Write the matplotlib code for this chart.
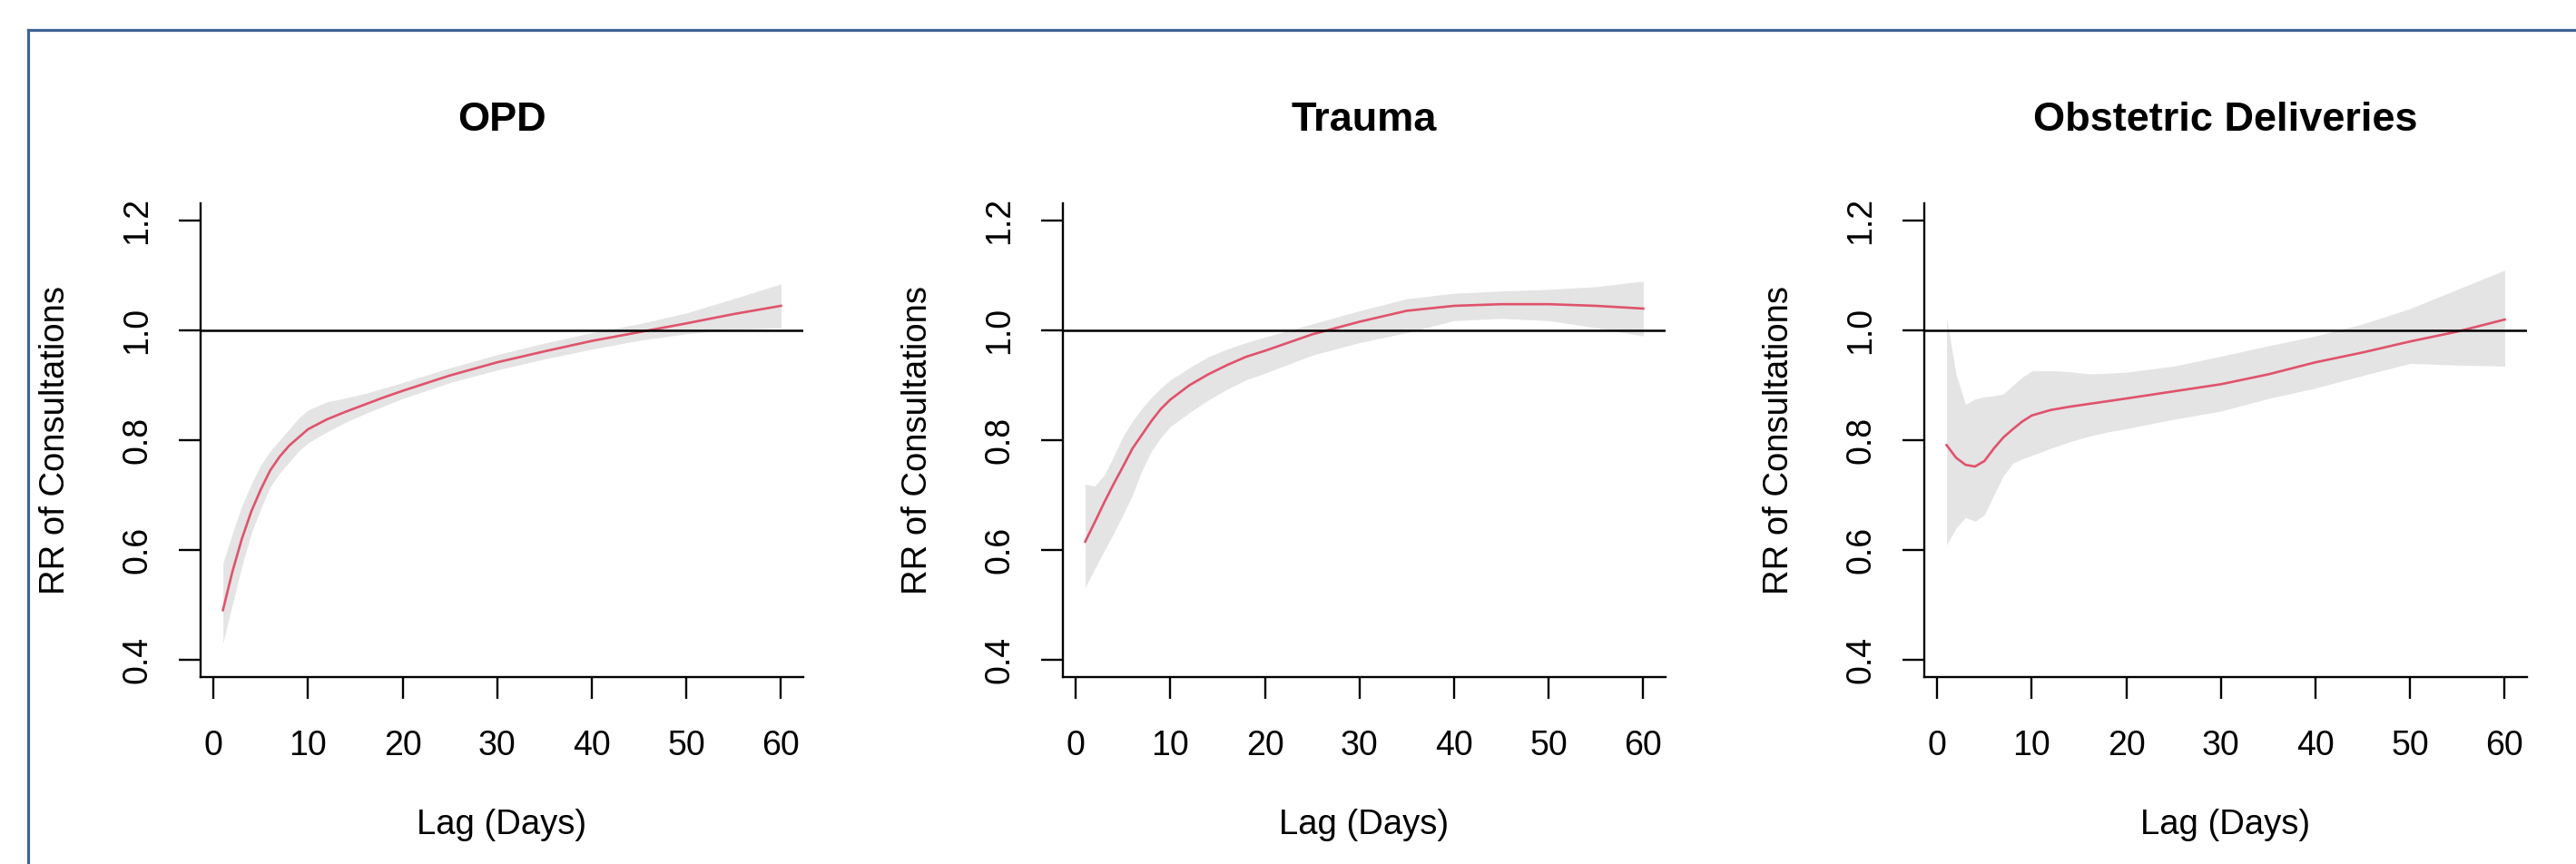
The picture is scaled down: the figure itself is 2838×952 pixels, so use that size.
import numpy as np
import matplotlib
matplotlib.use("Agg")
import matplotlib.pyplot as plt
from matplotlib.lines import Line2D

plt.rcParams['font.family'] = ['Liberation Sans', 'DejaVu Sans']

# lag grid shared by all three panels
lags = [1, 2, 3, 4, 5, 6, 7, 8, 9, 10, 12, 14, 16, 18, 20, 25, 30, 35, 40, 45, 50, 55, 60]

# OPD
opd_rr = [0.49, 0.56, 0.62, 0.67, 0.71, 0.745, 0.77, 0.79, 0.805, 0.82, 0.838, 0.852, 0.865,
          0.878, 0.89, 0.918, 0.942, 0.962, 0.981, 0.997, 1.013, 1.03, 1.045]
opd_low = [0.43, 0.50, 0.57, 0.63, 0.675, 0.715, 0.74, 0.76, 0.78, 0.795, 0.815, 0.833, 0.848,
           0.862, 0.876, 0.905, 0.928, 0.948, 0.966, 0.982, 0.994, 1.002, 1.005]
opd_high = [0.575, 0.63, 0.68, 0.72, 0.755, 0.78, 0.80, 0.82, 0.84, 0.855, 0.87, 0.877, 0.885,
            0.895, 0.905, 0.932, 0.956, 0.977, 0.996, 1.012, 1.032, 1.058, 1.085]

# Trauma
trauma_rr = [0.615, 0.65, 0.686, 0.72, 0.752, 0.785, 0.81, 0.835, 0.857, 0.874, 0.9, 0.92, 0.937,
             0.952, 0.963, 0.993, 1.016, 1.036, 1.045, 1.048, 1.048, 1.045, 1.04]
trauma_low = [0.532, 0.565, 0.598, 0.63, 0.664, 0.70, 0.745, 0.78, 0.805, 0.825, 0.85, 0.873, 0.893,
              0.91, 0.922, 0.955, 0.978, 0.996, 1.018, 1.022, 1.018, 1.005, 0.99]
trauma_high = [0.72, 0.716, 0.736, 0.77, 0.807, 0.835, 0.858, 0.878, 0.895, 0.91, 0.932, 0.952, 0.966,
               0.978, 0.988, 1.012, 1.036, 1.058, 1.068, 1.072, 1.075, 1.08, 1.09]

# Obstetric Deliveries
obs_rr = [0.791, 0.768, 0.755, 0.752, 0.762, 0.785, 0.805, 0.82, 0.834, 0.845, 0.855, 0.861, 0.866,
          0.871, 0.876, 0.889, 0.902, 0.92, 0.942, 0.96, 0.98, 0.998, 1.02]
obs_low = [0.609, 0.64, 0.659, 0.652, 0.664, 0.70, 0.735, 0.758, 0.766, 0.772, 0.785, 0.797, 0.807,
           0.815, 0.821, 0.838, 0.853, 0.876, 0.895, 0.918, 0.94, 0.937, 0.935]
obs_high = [1.022, 0.92, 0.865, 0.875, 0.879, 0.881, 0.884, 0.9, 0.915, 0.926, 0.927, 0.925, 0.921,
            0.922, 0.924, 0.935, 0.953, 0.972, 0.99, 1.012, 1.04, 1.075, 1.11]

titles = ["OPD", "Trauma", "Obstetric Deliveries"]
series = [(opd_rr, opd_low, opd_high), (trauma_rr, trauma_low, trauma_high), (obs_rr, obs_low, obs_high)]
xticks = [0, 10, 20, 30, 40, 50, 60]
yticks = [0.4, 0.6, 0.8, 1.0, 1.2]

W, H = 2838, 952
fig = plt.figure(figsize=(W / 100, H / 100), dpi=100)

# axes boxes in pixels (left edge, width, top, bottom)
lefts = [221, 1171, 2120]
ax_w, ax_top, ax_bot = 664, 224, 746

for i in range(3):
    ax = fig.add_axes([lefts[i] / W, 1 - ax_bot / H, ax_w / W, (ax_bot - ax_top) / H])
    rr, lo, hi = series[i]
    ax.fill_between(lags, lo, hi, color="#e4e4e4", linewidth=0)
    ax.plot(lags, rr, color="#DF536B", lw=1.9)
    ax.axhline(1.0, color="black", lw=1.8)
    ax.set_xlim(-1.36, 62.36)
    ax.set_ylim(0.368, 1.232)
    ax.set_xticks(xticks)
    ax.set_yticks(yticks)
    ax.set_xticklabels([str(t) for t in xticks])
    ax.set_yticklabels(["%.1f" % t for t in yticks], rotation=90, va="center")
    for s in ["top", "right"]:
        ax.spines[s].set_visible(False)
    for s in ["left", "bottom"]:
        ax.spines[s].set_linewidth(1.7)
    ax.tick_params(axis="both", labelsize=27, width=1.7, length=17, direction="out")
    ax.tick_params(axis="x", pad=25)
    ax.tick_params(axis="y", pad=20)
    ax.text(0.5, 1.176, titles[i], transform=ax.transAxes, ha="center", va="center",
            fontsize=32.5, fontweight="bold")
    ax.text(0.5, -0.312, "Lag (Days)", transform=ax.transAxes, ha="center", va="center",
            fontsize=27.5)
    ax.text(-0.2416, 0.5, "RR of Consultations", transform=ax.transAxes, ha="center",
            va="center", rotation=90, fontsize=27.5)

# blue frame, only top and left edges are inside the picture
fig.add_artist(Line2D([31 / W, 1.0], [1 - 33 / H, 1 - 33 / H], color="#3e6396", lw=2.3))
fig.add_artist(Line2D([31 / W, 31 / W], [0.0, 1 - 33 / H], color="#3e6396", lw=2.3))

fig.savefig("out.png", dpi=100, facecolor="white")
